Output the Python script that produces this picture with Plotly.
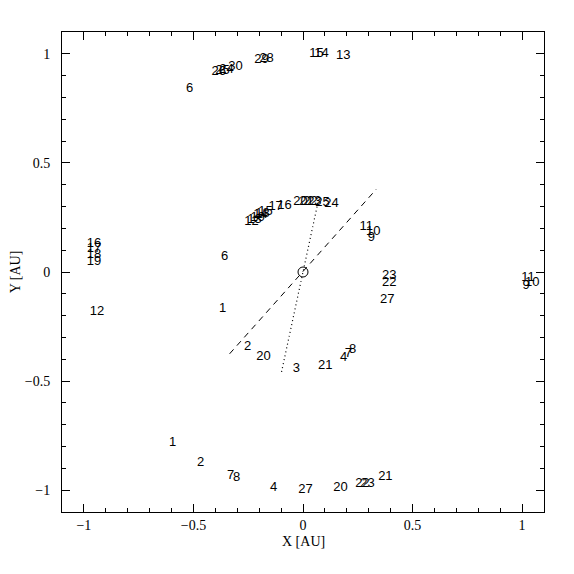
import plotly.graph_objects as go

# Labelled positions (day numbers)
top_lbl = ["6", "26", "25", "24", "30", "29", "28", "15", "14", "13"]
top_x = [-0.517, -0.385, -0.367, -0.349, -0.308, -0.189, -0.166, 0.062, 0.084, 0.184]
top_y = [0.839, 0.916, 0.921, 0.925, 0.939, 0.971, 0.976, 0.999, 0.999, 0.990]

mid_lbl = ["12", "13", "19", "14", "18", "15", "17", "16", "20", "21", "22", "23", "25", "24"]
mid_x = [-0.235, -0.221, -0.207, -0.194, -0.185, -0.171, -0.125, -0.084, -0.011, 0.016, 0.034, 0.052, 0.089, 0.130]
mid_y = [0.231, 0.241, 0.250, 0.263, 0.268, 0.277, 0.300, 0.305, 0.323, 0.323, 0.323, 0.323, 0.318, 0.314]

inner_lbl = ["6", "1", "2", "20", "3", "21", "4", "7", "8", "11", "10", "9", "23", "22", "27"]
inner_x = [-0.358, -0.367, -0.253, -0.180, -0.030, 0.102, 0.185, 0.207, 0.226, 0.289, 0.321, 0.312, 0.394, 0.394, 0.385]
inner_y = [0.072, -0.170, -0.344, -0.390, -0.444, -0.430, -0.394, -0.375, -0.358, 0.209, 0.186, 0.158, -0.019, -0.051, -0.125]

left_lbl = ["16", "17", "18", "19", "12"]
left_x = [-0.954, -0.954, -0.954, -0.954, -0.940]
left_y = [0.131, 0.108, 0.081, 0.049, -0.181]

right_lbl = ["11", "10", "9"]
right_x = [1.027, 1.046, 1.018]
right_y = [-0.025, -0.047, -0.065]

bot_lbl = ["1", "2", "7", "8", "4", "27", "20", "22", "23", "21"]
bot_x = [-0.595, -0.467, -0.330, -0.303, -0.134, 0.011, 0.171, 0.271, 0.294, 0.376]
bot_y = [-0.782, -0.873, -0.933, -0.942, -0.988, -0.997, -0.988, -0.969, -0.969, -0.938]

dash_x = [-0.335, 0.335]
dash_y = [-0.375, 0.380]
dot_x = [-0.098, 0.070]
dot_y = [-0.458, 0.327]

center_x = [0.0]
center_y = [0.0]

fig = go.Figure()

lab_font = dict(family="Liberation Sans, Arial, sans-serif", size=13, color="black")
for lx, ly, lt in [(top_x, top_y, top_lbl), (mid_x, mid_y, mid_lbl), (inner_x, inner_y, inner_lbl),
                   (left_x, left_y, left_lbl), (right_x, right_y, right_lbl), (bot_x, bot_y, bot_lbl)]:
    fig.add_trace(go.Scatter(x=lx, y=ly, text=lt, mode="text", textposition="middle center",
                             textfont=lab_font, showlegend=False, hoverinfo="skip"))

fig.add_trace(go.Scatter(x=dash_x, y=dash_y, mode="lines",
                         line=dict(color="black", width=1, dash="6px,5px"), showlegend=False))
fig.add_trace(go.Scatter(x=dot_x, y=dot_y, mode="lines",
                         line=dict(color="black", width=1.2, dash="1px,3px"), showlegend=False))
fig.add_trace(go.Scatter(x=center_x, y=center_y, mode="markers",
                         marker=dict(symbol="circle-open", size=10, color="black", line=dict(width=1)),
                         showlegend=False))

axis_font = dict(family="Liberation Serif, DejaVu Serif, serif", size=14, color="black")
common = dict(range=[-1.1, 1.1], showgrid=False, zeroline=False, showline=True, linecolor="black",
              linewidth=1, mirror="allticks", ticks="inside", ticklen=8, tickcolor="black",
              tickwidth=1, dtick=0.5, tick0=0, tickfont=axis_font, automargin=False,
              minor=dict(dtick=0.1, ticks="inside", ticklen=4, tickcolor="black", tickwidth=1, showgrid=False))

fig.update_layout(
    width=574, height=574,
    margin=dict(l=54, r=38, t=24, b=70),
    plot_bgcolor="white", paper_bgcolor="white",
    xaxis=dict(**common),
    yaxis=dict(title=dict(text="Y [AU]", font=axis_font), ticklabelstandoff=8, **common),
    annotations=[dict(text="X [AU]", xref="paper", yref="paper", x=0.5, y=0, yshift=-29,
                      xanchor="center", yanchor="middle", showarrow=False, font=axis_font)],
)

fig.write_html("out.html")
